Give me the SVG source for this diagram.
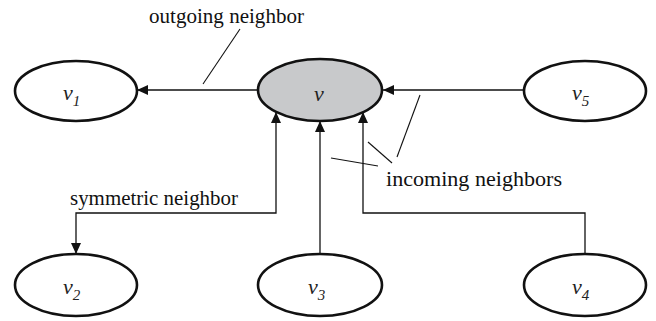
<svg xmlns="http://www.w3.org/2000/svg" width="656" height="321" viewBox="0 0 656 321">
<style>
.node ellipse{fill:#fff;stroke:#111;stroke-width:2.6}
.node.center ellipse{fill:#c8c9cb}
.lbl{font-family:"Liberation Serif","Times New Roman",serif;font-style:italic;font-size:22px;fill:#222}
.sub{font-size:15px}
.txt{font-family:"Liberation Serif","Times New Roman",serif;font-size:22px;fill:#111}
.edge{fill:none;stroke:#111;stroke-width:1.3}
.lead{fill:none;stroke:#111;stroke-width:1.1}
</style>
<defs>
<marker id="ah" markerUnits="userSpaceOnUse" markerWidth="11" markerHeight="10" refX="11" refY="5" orient="auto-start-reverse">
<path d="M0,0 L11,5 L0,10 z" fill="#111"/>
</marker>
</defs>
<g id="connectors">
<path class="edge" d="M258,90 H137" marker-end="url(#ah)"/>
<path class="edge" d="M523,90 H383" marker-end="url(#ah)"/>
<path class="edge" d="M276,112 V213 H76 V254" marker-start="url(#ah)" marker-end="url(#ah)"/>
<path class="edge" d="M320,253 V121" marker-end="url(#ah)"/>
<path class="edge" d="M585,254 V213 H363 V112" marker-end="url(#ah)"/>
<path class="lead" d="M203,84 L240,29"/>
<path class="lead" d="M420,95 L397,157"/>
<path class="lead" d="M368,142 L392,163"/>
<path class="lead" d="M331,158 L378,166"/>
</g>
<g id="v" class="node center"><ellipse cx="320" cy="90" rx="62" ry="31"/><text class="lbl" x="314" y="101">v</text></g>
<g id="v1" class="node"><ellipse cx="76" cy="91" rx="61" ry="30"/><text class="lbl" x="63" y="100">v<tspan class="sub" dy="6">1</tspan></text></g>
<g id="v5" class="node"><ellipse cx="585" cy="91" rx="61" ry="30"/><text class="lbl" x="572" y="100">v<tspan class="sub" dy="6">5</tspan></text></g>
<g id="v2" class="node"><ellipse cx="76" cy="285" rx="61" ry="31"/><text class="lbl" x="63" y="294">v<tspan class="sub" dy="6">2</tspan></text></g>
<g id="v3" class="node"><ellipse cx="320" cy="285" rx="62" ry="31"/><text class="lbl" x="308" y="294">v<tspan class="sub" dy="6">3</tspan></text></g>
<g id="v4" class="node"><ellipse cx="585" cy="285" rx="61" ry="31"/><text class="lbl" x="572" y="294">v<tspan class="sub" dy="6">4</tspan></text></g>
<text class="txt" x="149" y="23" textLength="155" lengthAdjust="spacingAndGlyphs">outgoing neighbor</text>
<text class="txt" x="70" y="205" textLength="168" lengthAdjust="spacingAndGlyphs">symmetric neighbor</text>
<text class="txt" x="386" y="186" textLength="176" lengthAdjust="spacingAndGlyphs">incoming neighbors</text>
</svg>
